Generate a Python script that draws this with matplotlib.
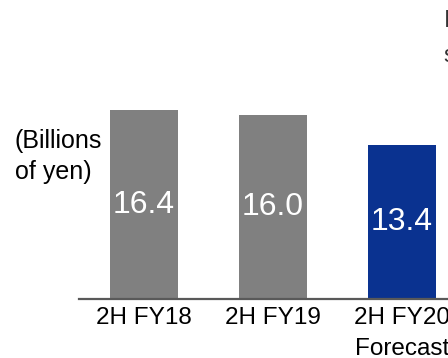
import matplotlib
matplotlib.use("Agg")
import matplotlib.pyplot as plt

plt.rcParams['font.family'] = ['Liberation Sans', 'DejaVu Sans']

periods = ['2H FY18', '2H FY19', '2H FY20\nForecast']
values = [16.4, 16.0, 13.4]
colors = ['#808080', '#808080', '#0a3290']

W, H = 448, 358
fig = plt.figure(figsize=(W / 100, H / 100), dpi=100)

# axes placed in pixel terms so the baseline sits where the reference has it
left, right, bottom, top = 79, 460, 299, 69
ax = fig.add_axes([left / W, (H - bottom) / H, (right - left) / W, (bottom - top) / H])

x = range(len(values))
bars = ax.bar(x, values, width=0.527, color=colors)
ax.set_xlim(-0.504, 2.45)
ax.set_ylim(0, 20)

for b, v in zip(bars, values):
    ax.text(b.get_x() + b.get_width() / 2, v / 2, f'{v:.1f}',
            ha='center', va='center', color='white', fontsize=23)

ax.set_xticks(list(x))
ax.set_xticklabels(periods, fontsize=17.5, linespacing=1.5)
ax.tick_params(axis='x', length=0, pad=6)
ax.set_yticks([])
for s in ['top', 'right', 'left']:
    ax.spines[s].set_visible(False)
ax.spines['bottom'].set_color('#595959')
ax.spines['bottom'].set_linewidth(1.6)

fig.text(15 / W, 1 - 129 / H, '(Billions\nof yen)', fontsize=18,
         ha='left', va='top', linespacing=1.35)

# text cut off at the right edge of the original
fig.text(444 / W, 1 - 10 / H, 'I', fontsize=17, ha='left', va='top', color='#333333')
fig.text(443 / W, 1 - 45 / H, 's', fontsize=17, ha='left', va='top', color='#333333')

fig.savefig('out.png', dpi=100)
